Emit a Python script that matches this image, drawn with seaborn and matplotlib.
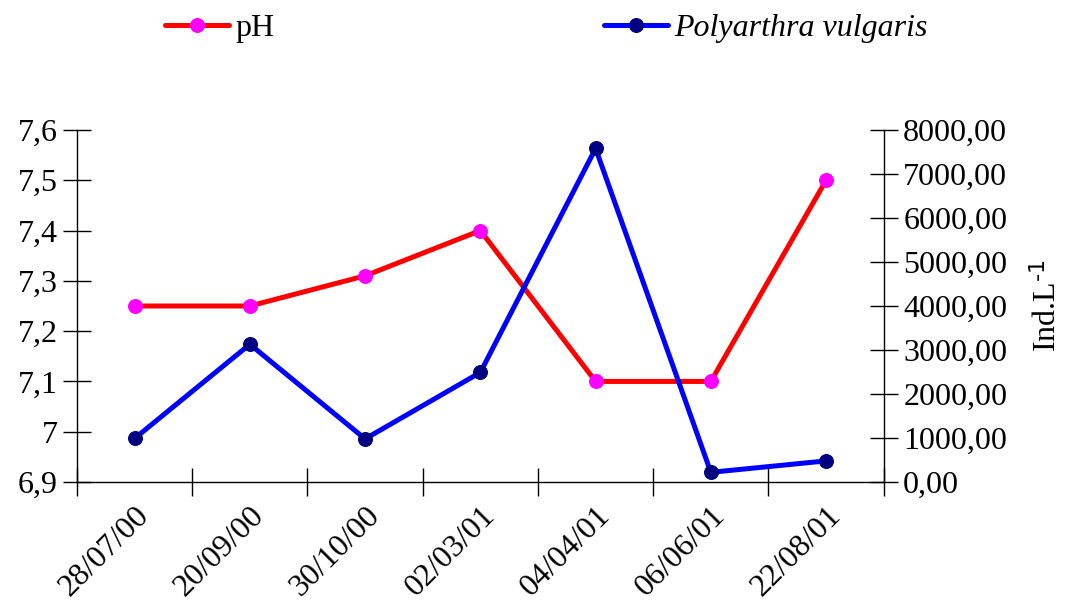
import numpy as np
import pandas as pd
import seaborn as sns
import matplotlib.pyplot as plt
from matplotlib.ticker import FixedLocator, FuncFormatter

datas = ["28/07/00", "20/09/00", "30/10/00", "02/03/01", "04/04/01", "06/06/01", "22/08/01"]
ph = [7.25, 7.25, 7.31, 7.40, 7.10, 7.10, 7.50]
polyarthra = [990, 3130, 980, 2490, 7580, 220, 480]

df = pd.DataFrame({"pos": np.arange(len(datas)), "pH": ph, "Polyarthra": polyarthra})

sns.set_theme(style="white")
plt.rcParams["font.family"] = ["Liberation Serif", "DejaVu Serif"]
plt.rcParams["mathtext.default"] = "regular"
plt.rcParams["text.color"] = "black"
plt.rcParams["axes.labelcolor"] = "black"
plt.rcParams["xtick.color"] = "black"
plt.rcParams["ytick.color"] = "black"
fs = 23

fig = plt.figure(figsize=(10.66, 6.12), dpi=100)
ax = fig.add_axes([0.0722, 0.2124, 0.829 - 0.0722, 0.7876 - 0.2124])
ax2 = ax.twinx()

sns.lineplot(data=df, x="pos", y="pH", ax=ax, color="#ff0000", linewidth=3.6,
             marker="o", markersize=10, markerfacecolor="#ff00ff", markeredgecolor="#ff00ff",
             label="pH", legend=False)
sns.lineplot(data=df, x="pos", y="Polyarthra", ax=ax2, color="#0000ff", linewidth=3.6,
             marker="o", markersize=10, markerfacecolor="#000080", markeredgecolor="#000080",
             label="Polyarthra vulgaris", legend=False)

ax.set_xlim(-0.5, len(datas) - 0.5)
ax.set_ylim(6.9, 7.6)
ax2.set_ylim(0, 8000)

# ticks between categories, labels at the category centres
ax.xaxis.set_major_locator(FixedLocator(np.arange(-0.5, len(datas), 1.0)))
ax.xaxis.set_major_formatter(FuncFormatter(lambda v, p: ""))
ax.set_xticks(np.arange(len(datas)), labels=datas, minor=True)
ax.tick_params(axis="x", which="major", bottom=True, direction="inout", length=20, width=1, color="black")
ax.tick_params(axis="x", which="minor", bottom=True, length=0, pad=14, labelsize=fs, labelcolor="black")
for t in ax.get_xticklabels(minor=True):
    t.set_rotation(45)
    t.set_ha("right")
    t.set_rotation_mode("anchor")

ax.set_yticks(np.arange(6.9, 7.61, 0.1))
ax.yaxis.set_major_formatter(FuncFormatter(lambda v, p: f"{round(v, 2):g}".replace(".", ",")))
ax.tick_params(axis="y", left=True, direction="inout", length=20, width=1, color="black",
               labelsize=fs, labelcolor="black", pad=4)

ax2.set_yticks(np.arange(0, 8001, 1000))
ax2.yaxis.set_major_formatter(FuncFormatter(lambda v, p: f"{v:.2f}".replace(".", ",")))
ax2.tick_params(axis="y", right=True, direction="inout", length=20, width=1, color="black",
                labelsize=fs, labelcolor="black", pad=4)

ax.set_xlabel("")
ax.set_ylabel("")
ax2.set_ylabel(r"Ind.L$^{\text{-1}}$", fontsize=fs, labelpad=18, color="black")

for a in (ax, ax2):
    a.spines["top"].set_visible(False)
    for s in ("left", "right", "bottom"):
        a.spines[s].set_color("black")
        a.spines[s].set_linewidth(1)
ax.spines["right"].set_visible(False)
ax2.spines["left"].set_visible(False)
ax2.spines["bottom"].set_visible(False)
ax.grid(False)
ax2.grid(False)

handles = [ax.get_lines()[0], ax2.get_lines()[0]]
leg = fig.legend(handles, ["pH", "Polyarthra vulgaris"], loc="upper left",
                 bbox_to_anchor=(0.128, 1.025), ncol=2, frameon=False, fontsize=fs,
                 handlelength=2.0, handletextpad=0.2, columnspacing=10.3)
leg.get_texts()[1].set_style("italic")
for t in leg.get_texts():
    t.set_color("black")

fig.savefig("out.png", dpi=100)
